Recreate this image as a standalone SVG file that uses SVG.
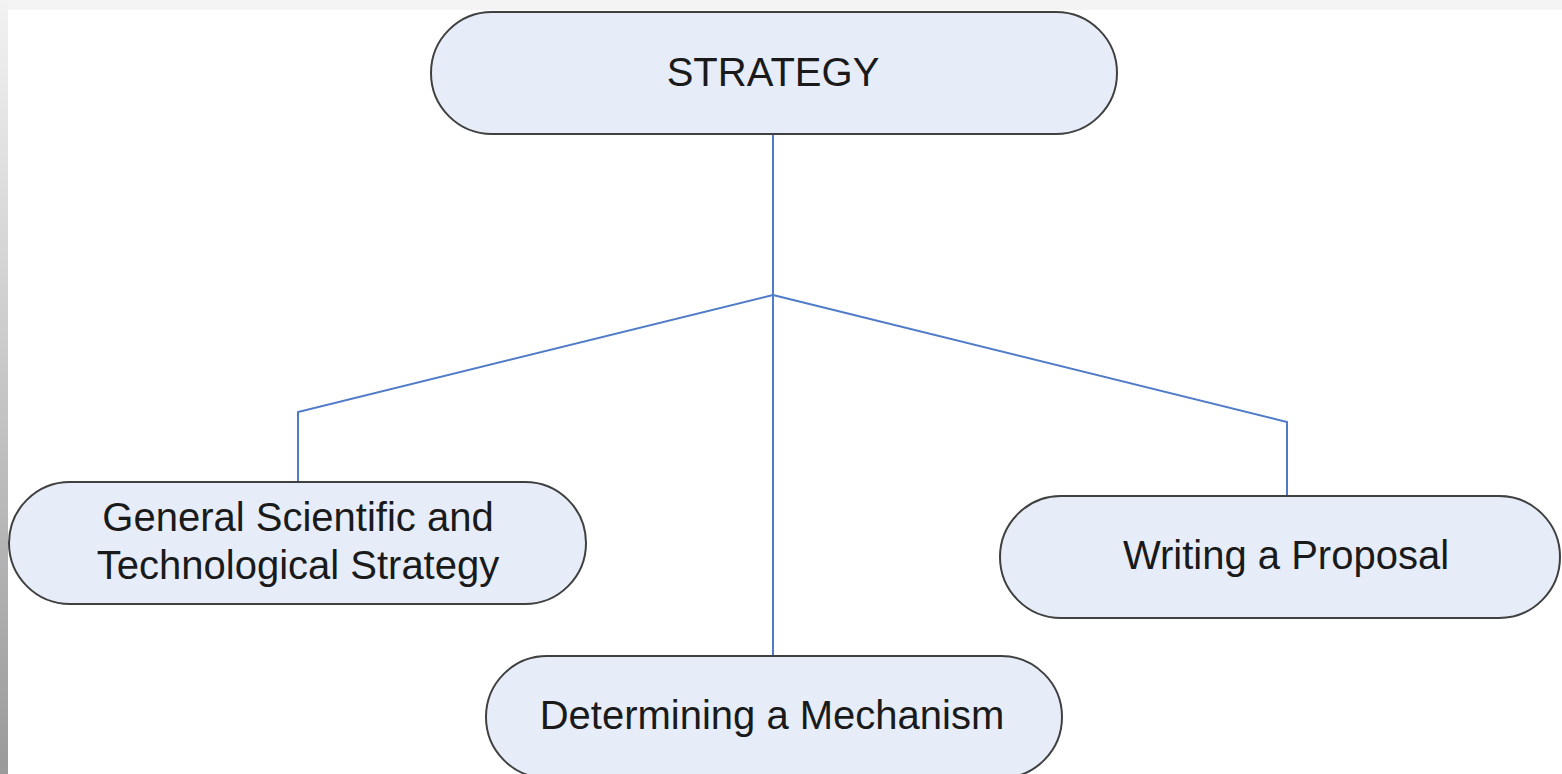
<svg xmlns="http://www.w3.org/2000/svg" width="1562" height="774" viewBox="0 0 1562 774">
<defs>
<linearGradient id="edge" x1="0" y1="0" x2="0" y2="1">
<stop offset="0" stop-color="#f2f2f2"/>
<stop offset="1" stop-color="#9a9a9a"/>
</linearGradient>
<style>
.node rect{fill:#e6edf8;stroke:#404040;stroke-width:2}
.node text{font-family:"Liberation Sans",Arial,sans-serif;font-size:40px;fill:#1a1a1a;text-anchor:middle}
.conn{fill:none;stroke:#4f7bc8;stroke-width:2}
</style>
</defs>
<rect x="0" y="0" width="1562" height="774" fill="#ffffff"/>
<rect x="0" y="0" width="1562" height="10" fill="#f4f4f4"/>
<rect x="0" y="0" width="8" height="774" fill="url(#edge)"/>
<g id="connectors">
<polyline class="conn" points="773,134 773,656"/>
<polyline class="conn" points="773,295 298,412 298,482"/>
<polyline class="conn" points="773,295 1287,422 1287,496"/>
</g>
<g id="strategy" class="node">
<rect x="431" y="12" width="686" height="122" rx="61" ry="61"/>
<text x="773" y="86">STRATEGY</text>
</g>
<g id="general" class="node">
<rect x="9" y="482" width="577" height="122" rx="61" ry="61"/>
<text x="298" y="531">General Scientific and</text>
<text x="298" y="579">Technological Strategy</text>
</g>
<g id="proposal" class="node">
<rect x="1000" y="496" width="560" height="122" rx="61" ry="61"/>
<text x="1286" y="569">Writing a Proposal</text>
</g>
<g id="mechanism" class="node">
<rect x="486" y="656" width="576" height="122" rx="61" ry="61"/>
<text x="772" y="729">Determining a Mechanism</text>
</g>
</svg>
